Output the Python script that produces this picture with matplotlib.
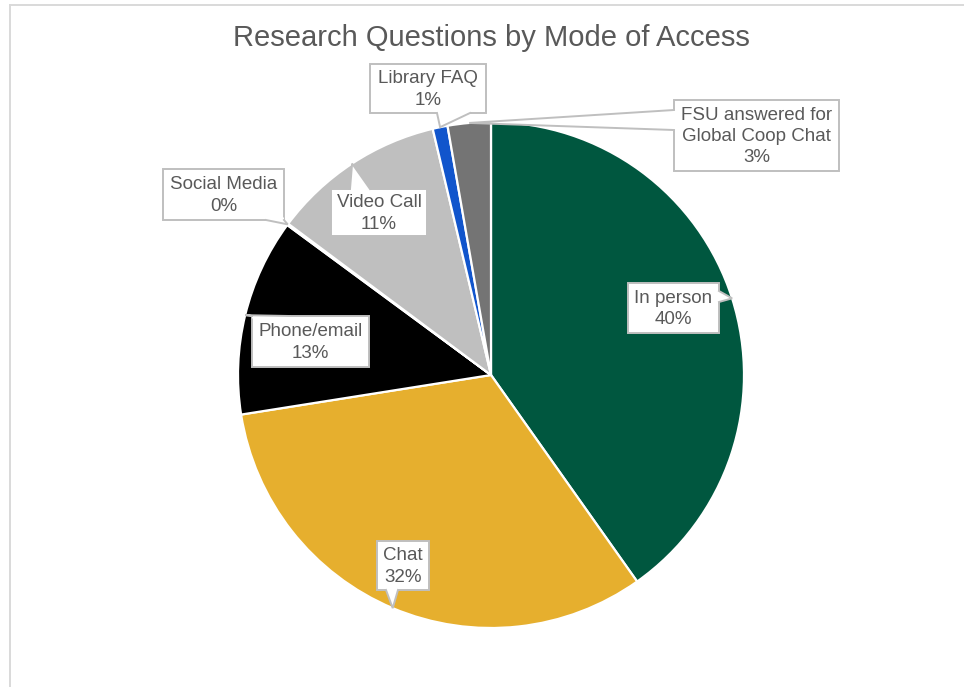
import numpy as np
import matplotlib
matplotlib.use("Agg")
import matplotlib.pyplot as plt
from matplotlib.patches import Rectangle, Polygon
from matplotlib.lines import Line2D

plt.rcParams['font.family'] = ['Liberation Sans', 'DejaVu Sans']

# ---- data ----
categories = ["In person", "Chat", "Phone/email", "Social Media", "Video Call",
              "Library FAQ", "FSU answered for\nGlobal Coop Chat"]
shares = [40.2, 32.3, 12.6, 0.1, 11.1, 0.95, 2.75]
colors = ["#00573F", "#E6AF2E", "#000000", "#FFFFFF", "#BFBFBF", "#1155CC", "#747474"]
title = "Research Questions by Mode of Access"

W, H = 964, 687
fig = plt.figure(figsize=(W / 100, H / 100), dpi=100)
ax = fig.add_axes([0, 0, 1, 1])

def Y(y):
    return H - y

cx, cy, R = 491, 375, 253
wedges, _ = ax.pie(shares, colors=colors, startangle=90, counterclock=False,
                   center=(cx, Y(cy)), radius=R,
                   wedgeprops=dict(edgecolor="white", linewidth=1.6))
ax.set_xlim(0, W)
ax.set_ylim(0, H)
ax.set_aspect("equal")
ax.axis("off")

# frame lines (cropped chart area border)
fc = "#D9D9D9"
ax.add_line(Line2D([9.5, 9.5], [Y(4.5), Y(H + 5)], color=fc, lw=1.4))
ax.add_line(Line2D([9.5, W + 5], [Y(4.5), Y(4.5)], color=fc, lw=1.4))

ax.text(491.5, Y(46), title, ha="center", va="baseline", fontsize=21, color="#595959")

# label box layout: (left, right, top, bottom), pointer side, base interval
layout = [
    ((628, 719, 283, 333), "right", (291, 302)),
    ((377, 429, 541, 590), "bottom", (386, 398)),
    ((252, 369, 316, 367), "top", (252, 290)),
    ((163, 284, 169, 220), "bottom", (266, 284)),
    ((331, 427, 189, 236), "top", (350, 370)),
    ((370, 486, 64, 113), "bottom", (437, 470)),
    ((674, 839, 100, 171), "left", (110, 130)),
]

ec = "#BFBFBF"
for w, cat, val, (box, side, base) in zip(wedges, categories, shares, layout):
    mid = np.deg2rad((w.theta1 + w.theta2) / 2)
    tx = cx + R * np.cos(mid)
    ty_data = Y(cy) + R * np.sin(mid)
    l, r, t, b = box
    ax.add_patch(Rectangle((l, Y(b)), r - l, b - t, facecolor="white",
                           edgecolor=ec, lw=1.4, zorder=5))
    a0, a1 = base
    ins = 2.5
    if side == "right":
        p0, p1 = (r, Y(a0)), (r, Y(a1))
        q0, q1 = (r - ins, Y(a0)), (r - ins, Y(a1))
    elif side == "left":
        p0, p1 = (l, Y(a0)), (l, Y(a1))
        q0, q1 = (l + ins, Y(a0)), (l + ins, Y(a1))
    elif side == "top":
        p0, p1 = (a0, Y(t)), (a1, Y(t))
        q0, q1 = (a0, Y(t) - ins), (a1, Y(t) - ins)
    else:
        p0, p1 = (a0, Y(b)), (a1, Y(b))
        q0, q1 = (a0, Y(b) + ins), (a1, Y(b) + ins)
    tip = (tx, ty_data)
    ax.add_patch(Polygon([q0, p0, tip, p1, q1], closed=True, facecolor="white",
                         edgecolor="none", zorder=6))
    ax.add_line(Line2D([p0[0], tip[0], p1[0]], [p0[1], tip[1], p1[1]],
                       color=ec, lw=1.4, zorder=7, solid_joinstyle="miter"))
    ax.text((l + r) / 2, Y((t + b) / 2 + 1), f"{cat}\n{round(val):d}%",
            ha="center", va="center", multialignment="center",
            fontsize=13.5, color="#595959", zorder=8, linespacing=1.32)

fig.savefig("out.png", dpi=100, facecolor="white")
